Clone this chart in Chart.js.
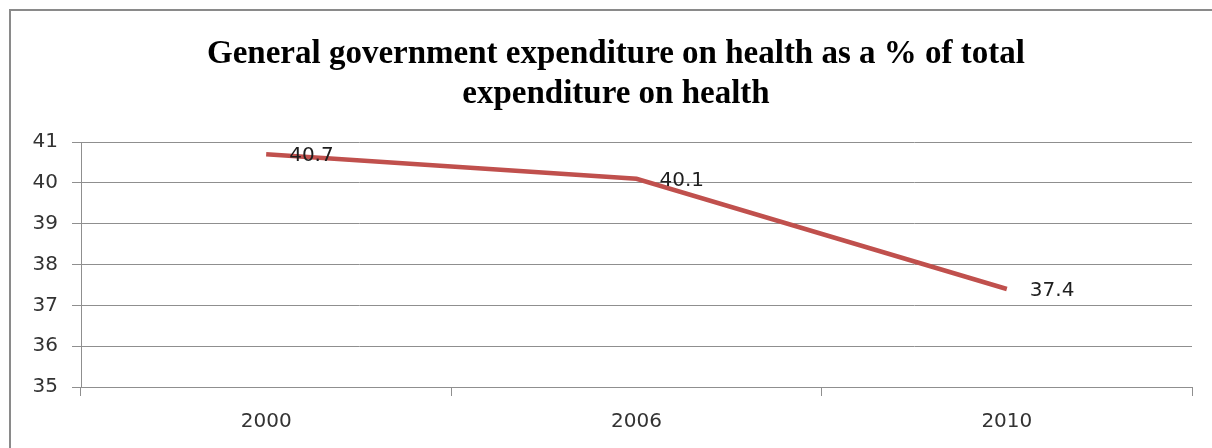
<!DOCTYPE html>
<html>
<head>
<meta charset="utf-8">
<script src="https://cdn.jsdelivr.net/npm/chart.js@4"></script>
<style>
  html, body { margin: 0; padding: 0; background: #fff; overflow: hidden; }
  #wrap { position: relative; width: 1212px; height: 448px; }
  #frame {
    position: absolute; left: 9px; top: 9px; width: 1220px; height: 460px;
    border: 2px solid #8a8a8a; pointer-events: none;
  }
</style>
</head>
<body>
<div id="wrap">
  <canvas id="chart" width="1212" height="448"></canvas>
  <div id="frame"></div>
</div>
<script>
const years = ['2000', '2006', '2010'];
const govShare = [40.7, 40.1, 37.4];
const titleLines = ['General government expenditure on health as a % of total', 'expenditure on health'];

const tickFont = { family: '"DejaVu Sans", sans-serif', size: 20 };
const gridColor = '#8f8f8f';

// title drawn by hand: the frame of the original chart is a bit wider than the plot
const chartTitle = {
  id: 'chartTitle',
  afterDraw(chart) {
    const ctx = chart.ctx;
    ctx.save();
    ctx.font = 'bold 33px "Liberation Serif", "Times New Roman", serif';
    ctx.fillStyle = '#000';
    ctx.textAlign = 'center';
    ctx.textBaseline = 'middle';
    titleLines.forEach((line, i) => ctx.fillText(line, 616, 54 + i * 40));
    ctx.restore();
  }
};

// simple value labels to the right of each point
const valueLabels = {
  id: 'valueLabels',
  afterDatasetsDraw(chart) {
    const ctx = chart.ctx;
    const meta = chart.getDatasetMeta(0);
    ctx.save();
    ctx.font = `${tickFont.size}px ${tickFont.family}`;
    ctx.fillStyle = '#1e1e1e';
    ctx.textAlign = 'left';
    ctx.textBaseline = 'middle';
    meta.data.forEach((pt, i) => {
      ctx.fillText(String(govShare[i]), pt.x + 23, pt.y + 2);
    });
    ctx.restore();
  }
};

new Chart(document.getElementById('chart'), {
  type: 'line',
  data: {
    labels: years,
    datasets: [{
      data: govShare,
      borderColor: '#c0504d',
      borderWidth: 4.5,
      pointRadius: 0,
      tension: 0
    }]
  },
  options: {
    responsive: false,
    animation: false,
    layout: { padding: { left: 0, right: 20, top: 142, bottom: 0 } },
    plugins: {
      legend: { display: false },
      tooltip: { enabled: false },
      title: { display: false }
    },
    scales: {
      x: {
        offset: true,
        grid: { offset: true, drawOnChartArea: false, drawTicks: true, tickLength: 9, color: gridColor },
        border: { color: gridColor },
        ticks: { font: tickFont, color: '#333', padding: 14, maxRotation: 0 }
      },
      y: {
        min: 35,
        max: 41,
        afterFit(scale) { scale.width = 81; },
        grid: { color: gridColor, tickLength: 9 },
        border: { color: gridColor },
        ticks: { stepSize: 1, font: tickFont, color: '#333', padding: 14 }
      }
    }
  },
  plugins: [valueLabels, chartTitle]
});
</script>
</body>
</html>
